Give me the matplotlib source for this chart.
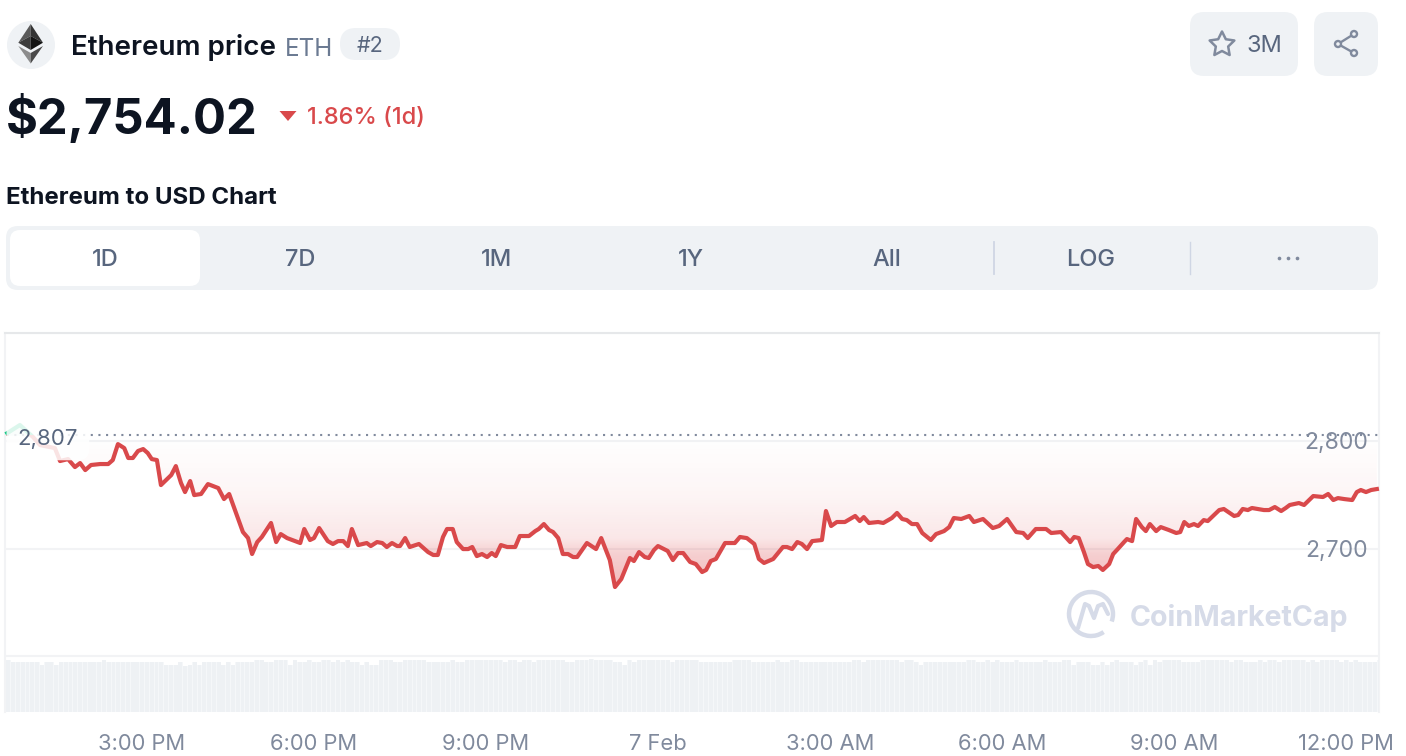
import numpy as np
import matplotlib
matplotlib.use("Agg")
import matplotlib.pyplot as plt
from matplotlib.patches import FancyBboxPatch, Circle, Polygon, Arc, Rectangle
from matplotlib.ticker import FuncFormatter

plt.rcParams['font.family'] = ['Inter', 'DejaVu Sans']

# price readings, hours counted from midnight of 6 Feb
hours_a = [12.65, 12.87, 13.10, 13.22, 13.48, 13.57, 13.71, 13.83, 13.92, 14.01,
           14.11, 14.27, 14.41, 14.49, 14.58, 14.69, 14.76, 14.84, 14.93, 15.02,
           15.10, 15.17, 15.26, 15.33, 15.51, 15.59, 15.68, 15.75, 15.84, 15.91,
           16.03, 16.15, 16.33, 16.43, 16.52, 16.76, 16.85, 16.92, 17.01, 17.09,
           17.25, 17.34, 17.42, 17.53, 17.76, 17.83, 17.93, 18.00, 18.09, 18.24,
           18.33, 18.42, 18.51, 18.59, 18.66, 18.77, 18.92, 18.99, 19.10, 19.19,
           19.27, 19.36, 19.45, 19.50, 19.59, 19.67, 19.83, 19.99, 20.08, 20.16,
           20.25, 20.32, 20.42, 20.49, 20.60, 20.69]
prices_a = [2807.1, 2814.6, 2803.4, 2796.0, 2793.2, 2781.2, 2783.0, 2775.6, 2779.3, 2772.8,
            2777.5, 2778.4, 2778.4, 2782.1, 2796.9, 2793.2, 2784.0, 2784.0, 2790.5, 2792.3,
            2788.6, 2783.0, 2782.1, 2758.9, 2768.2, 2776.5, 2760.8, 2752.4, 2762.6, 2749.6,
            2750.6, 2759.8, 2756.1, 2745.9, 2750.6, 2715.3, 2709.7, 2694.9, 2706.0, 2710.7,
            2723.7, 2706.0, 2713.4, 2709.7, 2705.1, 2718.1, 2707.9, 2709.7, 2719.0, 2706.9,
            2704.2, 2706.9, 2706.9, 2702.3, 2718.1, 2703.2, 2705.1, 2702.3, 2706.0, 2705.1,
            2701.4, 2705.1, 2702.3, 2702.3, 2709.7, 2701.4, 2704.2, 2696.7, 2694.0, 2694.0,
            2710.7, 2718.1, 2718.1, 2706.0, 2699.5, 2699.5]

hours_b = [20.76, 20.84, 20.93, 21.02, 21.10, 21.17, 21.26, 21.37, 21.51, 21.59,
           21.75, 21.86, 21.92, 22.01, 22.10, 22.17, 22.26, 22.34, 22.43, 22.52,
           22.59, 22.76, 22.92, 23.01, 23.16, 23.25, 23.36, 23.51, 23.58, 23.67,
           23.77, 23.84, 23.93, 24.00, 24.17, 24.26, 24.35, 24.44, 24.56, 24.66,
           24.77, 24.84, 24.92, 25.01, 25.17, 25.34, 25.43, 25.55, 25.68, 25.76,
           25.85, 26.01, 26.18, 26.25, 26.34, 26.43, 26.51, 26.60, 26.69, 26.86,
           26.93, 27.02, 27.12, 27.26, 27.44, 27.52, 27.59, 27.68, 27.84, 27.93,
           28.08, 28.17, 28.26, 28.34, 28.43, 28.52, 28.61, 28.76, 28.85]
prices_b = [2701.4, 2693.0, 2694.9, 2692.1, 2695.8, 2693.0, 2703.2, 2701.4, 2701.4, 2711.6,
            2711.6, 2716.2, 2718.1, 2722.7, 2717.2, 2715.3, 2709.7, 2694.9, 2694.9, 2692.1,
            2692.1, 2705.1, 2699.5, 2709.7, 2689.3, 2664.3, 2671.7, 2691.2, 2688.4, 2696.7,
            2692.1, 2691.2, 2698.6, 2702.3, 2697.7, 2689.3, 2695.8, 2695.8, 2687.5, 2685.6,
            2678.2, 2680.1, 2688.4, 2690.3, 2705.1, 2705.1, 2710.7, 2709.7, 2704.2, 2690.3,
            2686.6, 2690.3, 2701.4, 2701.4, 2699.5, 2706.0, 2704.2, 2699.5, 2706.9, 2707.9,
            2734.8, 2720.9, 2724.6, 2724.6, 2730.2, 2725.5, 2729.2, 2723.7, 2724.6, 2723.7,
            2728.3, 2733.0, 2727.4, 2726.4, 2722.7, 2722.7, 2714.4, 2707.9, 2713.4]

hours_c = [28.99, 29.08, 29.16, 29.29, 29.43, 29.51, 29.67, 29.84, 29.95, 30.09,
           30.25, 30.37, 30.45, 30.59, 30.77, 30.86, 31.03, 31.19, 31.26, 31.34,
           31.43, 31.50, 31.59, 31.68, 31.76, 31.87, 31.94, 32.02, 32.13, 32.18,
           32.27, 32.34, 32.44, 32.51, 32.58, 32.69, 32.77, 32.91, 33.04, 33.11,
           33.18, 33.26, 33.35, 33.42, 33.52, 33.59, 33.70, 33.79, 33.87, 34.05,
           34.12, 34.20, 34.29, 34.36, 34.57, 34.66, 34.76, 34.87, 34.95, 35.02,
           35.18, 35.27, 35.43, 35.60, 35.69, 35.78, 35.86, 35.97, 36.11, 36.19,
           36.26, 36.35, 36.44, 36.54]
prices_c = [2716.2, 2719.9, 2728.3, 2727.4, 2730.2, 2724.6, 2727.4, 2719.0, 2720.9, 2727.4,
            2715.3, 2714.4, 2709.7, 2718.1, 2718.1, 2714.4, 2715.3, 2706.0, 2710.7, 2709.7,
            2696.7, 2685.6, 2682.8, 2683.8, 2680.1, 2685.6, 2694.9, 2699.5, 2706.0, 2708.8,
            2706.9, 2727.4, 2719.9, 2716.2, 2722.7, 2716.2, 2719.9, 2717.2, 2714.4, 2715.3,
            2724.6, 2720.9, 2722.7, 2720.9, 2726.4, 2725.5, 2731.1, 2735.7, 2736.7, 2730.2,
            2731.1, 2736.7, 2735.7, 2737.6, 2735.7, 2735.7, 2738.5, 2734.8, 2737.6, 2740.4,
            2742.2, 2740.4, 2748.7, 2747.8, 2750.6, 2745.0, 2746.8, 2745.9, 2745.0, 2752.4,
            2754.3, 2752.4, 2754.3, 2755.2]

# volume bars, one per 5 minutes (relative height only)
volume_a = [52, 50, 50, 50, 50, 50, 50, 47, 50, 50, 47, 50, 50, 50, 50, 50, 50, 50, 50, 50,
            52, 50, 50, 50, 50, 50, 50, 50, 50, 50, 50, 50, 50, 47, 47, 47, 50, 46, 47, 50,
            47, 50, 50, 50, 50, 47, 50, 47, 50, 50, 50, 50, 52, 52, 50, 50, 52, 52, 52, 47,
            52, 50, 50, 52, 50, 50, 52, 52, 50, 52, 50, 52, 50, 50, 47, 50, 47, 47, 52, 52,
            52, 50, 50, 52, 52, 52, 52, 52, 50, 50, 50, 50, 50, 52, 50, 50, 52]
volume_b = [52, 52, 52, 52, 52, 52, 52, 50, 52, 52, 50, 52, 52, 50, 52, 52, 52, 52, 52, 52,
            50, 50, 52, 52, 52, 53, 52, 52, 52, 52, 50, 50, 47, 52, 50, 52, 52, 52, 52, 52,
            52, 52, 50, 52, 52, 52, 52, 52, 50, 50, 50, 50, 50, 50, 50, 52, 52, 52, 52, 50,
            50, 50, 50, 50, 52, 50, 50, 52, 52, 50, 50, 50, 50, 50, 50, 50, 50, 50, 50, 50,
            52, 52, 50, 52, 52, 52, 52, 52, 52, 52, 50, 52, 52, 50, 47, 50, 50, 50, 50]
volume_c = [50, 50, 50, 50, 50, 52, 52, 50, 50, 52, 50, 52, 50, 50, 50, 52, 50, 50, 50, 50,
            50, 52, 50, 50, 50, 52, 52, 47, 50, 50, 50, 47, 47, 50, 47, 50, 52, 50, 50, 50,
            47, 50, 52, 47, 52, 50, 52, 52, 52, 52, 50, 50, 50, 50, 52, 52, 52, 52, 52, 52,
            50, 52, 52, 50, 50, 50, 52, 50, 52, 52, 50, 52, 52, 52, 52, 52, 50, 52, 50, 52,
            52, 52, 52, 50, 52, 50, 52, 50, 50, 50, 50, 52]

ref_level = 2805.2
x_ticks = [15, 18, 21, 24, 27, 30, 33, 36]
x_labels = ["3:00 PM", "6:00 PM", "9:00 PM", "7 Feb", "3:00 AM", "6:00 AM", "9:00 AM", "12:00 PM"]
tab_labels = ["1D", "7D", "1M", "1Y", "All", "LOG"]

hours = np.array(hours_a + hours_b + hours_c)
prices = np.array(prices_a + prices_b + prices_c)
volumes = np.array(volume_a + volume_b + volume_c)
vol_hours = 12.67 + np.arange(len(volumes)) / 12

NAVY = "#0d1421"
SLATE = "#58667e"
GREY = "#808a9d"
PANEL = "#eff2f5"
RED = "#d9494b"
GRID = "#f2f3f5"

W, H = 1406, 756
fig = plt.figure(figsize=(W / 100, H / 100), dpi=100)


def px_axes(x0, y0, x1, y1):
    return fig.add_axes([x0 / W, 1 - y1 / H, (x1 - x0) / W, (y1 - y0) / H])


# page furniture lives in an axes measured in pixels
ui = fig.add_axes([0, 0, 1, 1])
ui.set_xlim(0, W)
ui.set_ylim(H, 0)
ui.axis("off")


def rbox(x0, y0, x1, y1, r, color):
    ui.add_patch(FancyBboxPatch((x0, y0), x1 - x0, y1 - y0,
                                boxstyle=f"round,pad=0,rounding_size={r}",
                                fc=color, ec="none"))


# eth logo
ui.add_patch(Circle((31, 45), 24, fc=PANEL, ec="none"))
ui.add_patch(Polygon([(30.7, 24), (18.3, 42.7), (30.7, 36)], fc="#5a5a5a", ec="none"))
ui.add_patch(Polygon([(30.7, 24), (43, 42.7), (30.7, 36)], fc="#343434", ec="none"))
ui.add_patch(Polygon([(18.3, 42.7), (30.7, 36), (30.7, 50)], fc="#3c3c3c", ec="none"))
ui.add_patch(Polygon([(43, 42.7), (30.7, 36), (30.7, 50)], fc="#141414", ec="none"))
ui.add_patch(Polygon([(18.3, 46), (30.7, 53), (30.7, 63.5)], fc="#8c8c8c", ec="none"))
ui.add_patch(Polygon([(43, 46), (30.7, 53), (30.7, 63.5)], fc="#4a4a4a", ec="none"))

ui.text(71, 47.5, "Ethereum price", fontsize=20, fontweight="semibold", color=NAVY, va="center")
ui.text(285, 49, "ETH", fontsize=17.5, color="#6b7a92", va="center")
rbox(340, 28, 400, 60, 16, PANEL)
ui.text(370, 46, "#2", fontsize=15.5, color=SLATE, va="center", ha="center")

ui.text(6, 119, "$2,754.02", fontsize=35.2, fontweight="bold", color=NAVY, va="center")
ui.add_patch(Polygon([(279.5, 111), (296.5, 111), (288, 121)], fc=RED, ec="none", joinstyle="round"))
ui.text(307, 118, "1.86% (1d)", fontsize=17, fontweight="medium", color=RED, va="center")
ui.text(6, 198.5, "Ethereum to USD Chart", fontsize=17.3, fontweight="bold", color=NAVY, va="center")

# star and share buttons
rbox(1190, 12, 1298, 76, 14, PANEL)
rbox(1314, 12, 1378, 76, 14, PANEL)
ang = np.pi / 2 + np.arange(10) * np.pi / 5
rad = np.where(np.arange(10) % 2 == 0, 13, 6.5)
ui.add_patch(Polygon(np.c_[1222 - rad * np.cos(ang), 44.5 - rad * np.sin(ang)],
                     fc="none", ec=GREY, lw=1.8, joinstyle="round"))
ui.text(1246, 46, "3M", fontsize=17, color=SLATE, va="center")
ui.plot([1354, 1338, 1354], [34, 44, 53], color=GREY, lw=1.7, zorder=3)
for cx, cy in [(1354, 34), (1338, 44), (1354, 53)]:
    ui.add_patch(Circle((cx, cy), 3, fc=PANEL, ec=GREY, lw=1.7, zorder=4))

# range tabs
rbox(6, 226, 1378, 290, 12, PANEL)
rbox(10, 230, 200, 286, 10, "white")
for lab, cx in zip(tab_labels, [105, 300, 496, 691, 887, 1091]):
    ui.text(cx, 260, lab, fontsize=17, fontweight="medium", color=SLATE, va="center", ha="center")
ui.plot([994, 994], [242, 274], color="#cfd6e4", lw=1.3)
ui.plot([1190, 1190], [242, 274], color="#cfd6e4", lw=1.0)
ui.scatter([1279, 1288, 1297], [258, 258, 258], s=7, color=GREY, lw=0)

# price chart
ax = px_axes(5, 333, 1379, 712)
ax.patch.set_alpha(0)
y_low, y_high = 2548.3, 2899.9

clip_low = Rectangle((12, y_low), 30, ref_level - y_low, transform=ax.transData)
clip_high = Rectangle((12, ref_level), 30, y_high - ref_level, transform=ax.transData)

# red wash under the reference level, getting stronger towards the dip
fill = ax.fill_between(hours, np.minimum(prices, ref_level), ref_level, color="none")
grad_y = np.linspace(ref_level, 2660, 200)
alpha = np.interp(grad_y, [2660, 2695, 2710, 2750, ref_level], [0.36, 0.24, 0.12, 0.05, 0.0])
rgba = np.zeros((200, 1, 4))
rgba[..., :3] = matplotlib.colors.to_rgb("#d9383c")
rgba[..., 3] = alpha[:, None]
im = ax.imshow(rgba, extent=(12, 37, 2660, ref_level), origin="upper", aspect="auto", zorder=1)
im.set_clip_path(fill.get_paths()[0], transform=ax.transData)

green = ax.fill_between(hours, np.maximum(prices, ref_level), ref_level,
                        color="#16c784", alpha=0.12, lw=0, zorder=1)

ax.hlines(ref_level, 12, 37, color=GREY, lw=1.5, linestyle=(0, (1, 2.67)), zorder=2)

red_line, = ax.plot(hours, prices, color=RED, lw=3.0, solid_joinstyle="round", zorder=3)
red_line.set_clip_path(clip_low)
green_line, = ax.plot(hours, prices, color="#16c784", lw=3.0, solid_joinstyle="round", zorder=3)
green_line.set_clip_path(clip_high)

ax.set_xlim(12.610, 36.577)
ax.set_ylim(y_low, y_high)
ax.set_yticks([2600, 2700, 2800, 2900])
ax.yaxis.tick_right()
ax.yaxis.set_major_formatter(FuncFormatter(lambda v, p: f"{v:,.0f}" if v in (2700, 2800) else ""))
ax.tick_params(axis="y", length=0, pad=-8, labelsize=16.5, labelcolor=GREY)
for t in ax.get_yticklabels():
    t.set_ha("right")
ax.grid(axis="y", color=GRID, lw=1.5, zorder=0)
ax.set_axisbelow(True)
ax.set_xticks(x_ticks)
ax.set_xticklabels(x_labels)
ax.tick_params(axis="x", length=0, pad=16, labelsize=15.8, labelcolor=GREY)
for side in ["left", "right"]:
    ax.spines[side].set_color(GRID)
    ax.spines[side].set_linewidth(1.5)
ax.spines["top"].set_color("#e6e8ea")
ax.spines["top"].set_linewidth(1.5)
ax.spines["bottom"].set_visible(False)

ax.text(12.62 + 0.21, 2801.5, "2,807", fontsize=16, color=SLATE, va="center", zorder=5,
        bbox=dict(boxstyle="round,pad=0.5", fc="white", ec="none", alpha=0.85))

# volume strip along the bottom
vol = px_axes(5, 655, 1379, 712)
vol.patch.set_alpha(0)
vol.bar(vol_hours, volumes, width=0.084, color="#f5f7f9", lw=0)
vol.bar(vol_hours, volumes, width=0.068, color="#eef1f4", lw=0)
vol.set_xlim(12.610, 36.577)
vol.set_ylim(0, 57)
vol.axis("off")

# watermark
wm = "#d6dbe8"
ui.add_patch(Arc((1091, 614), 44, 44, theta1=55, theta2=20, ec=wm, lw=3.2, zorder=6))
ui.plot([1078, 1085, 1089, 1094, 1098, 1103, 1108], [628, 604, 606, 618, 606, 604, 614],
        color=wm, lw=3.0, solid_joinstyle="round", solid_capstyle="round", zorder=6)
ui.text(1130, 618, "CoinMarketCap", fontsize=20.6, fontweight="bold", color=wm,
        va="center", zorder=6)
ui.set_zorder(0)
ax.set_zorder(1)
vol.set_zorder(2)

fig.savefig("out.png", dpi=100)
